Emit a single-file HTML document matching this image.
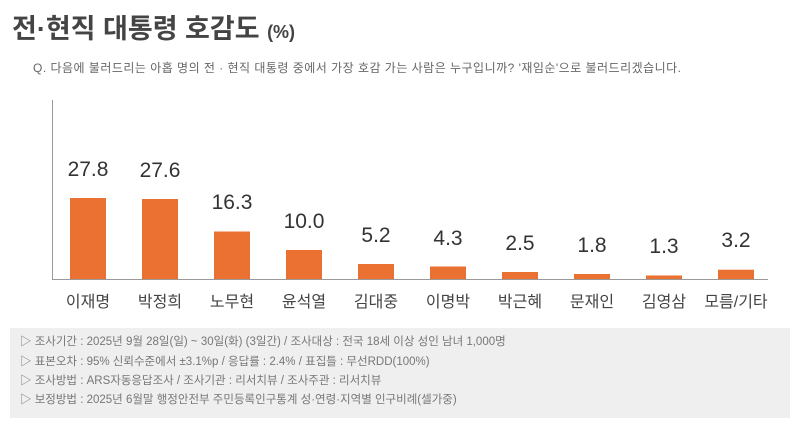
<!DOCTYPE html>
<html><head><meta charset="utf-8"><style>
body{margin:0;width:800px;height:427px;background:#fff;overflow:hidden;font-family:"Liberation Sans","Noto Sans CJK KR",sans-serif;}
</style></head><body>
<svg width="800" height="427" xmlns="http://www.w3.org/2000/svg" font-family="'Liberation Sans','Noto Sans CJK KR',sans-serif">
<text x="12" y="38" font-size="27" font-weight="bold" fill="#444">전·현직 대통령 호감도 <tspan font-size="18">(%)</tspan></text>
<text x="33" y="72" font-size="12" fill="#666" textLength="648" lengthAdjust="spacing">Q. 다음에 불러드리는 아홉 명의 전 · 현직 대통령 중에서 가장 호감 가는 사람은 누구입니까? '재임순'으로 불러드리겠습니다.</text>
<line x1="52.5" y1="100" x2="52.5" y2="279" stroke="#999" stroke-width="1"/>
<line x1="52" y1="279.5" x2="768" y2="279.5" stroke="#999" stroke-width="1"/>
<g fill="#ea7131">
<rect x="70" y="198" width="36" height="81"/>
<rect x="142" y="199" width="36" height="80"/>
<rect x="214" y="231.5" width="36" height="47.5"/>
<rect x="286" y="250" width="36" height="29"/>
<rect x="358" y="264" width="36" height="15"/>
<rect x="430" y="266.5" width="36" height="12.5"/>
<rect x="502" y="272" width="36" height="7"/>
<rect x="574" y="274" width="36" height="5"/>
<rect x="646" y="275.5" width="36" height="3.5"/>
<rect x="718" y="269.7" width="36" height="9.3"/>
</g>
<g font-size="21" fill="#333" text-anchor="middle">
<text x="88" y="176">27.8</text>
<text x="160" y="177">27.6</text>
<text x="232" y="209">16.3</text>
<text x="304" y="228">10.0</text>
<text x="376" y="242">5.2</text>
<text x="448" y="245">4.3</text>
<text x="520" y="250">2.5</text>
<text x="592" y="252">1.8</text>
<text x="664" y="253">1.3</text>
<text x="736" y="247">3.2</text>
</g>
<g font-size="16" fill="#444" text-anchor="middle">
<text x="88" y="307">이재명</text>
<text x="160" y="307">박정희</text>
<text x="232" y="307">노무현</text>
<text x="304" y="307">윤석열</text>
<text x="376" y="307">김대중</text>
<text x="448" y="307">이명박</text>
<text x="520" y="307">박근혜</text>
<text x="592" y="307">문재인</text>
<text x="664" y="307">김영삼</text>
<text x="736" y="307">모름/기타</text>
</g>
<rect x="10" y="328" width="780" height="90" fill="#efefef"/>
<g font-size="11.5" fill="#777">
<text x="20" y="345">▷ 조사기간 : 2025년 9월 28일(일) ~ 30일(화) (3일간) / 조사대상 : 전국 18세 이상 성인 남녀 1,000명</text>
<text x="20" y="365">▷ 표본오차 : 95% 신뢰수준에서 ±3.1%p / 응답률 : 2.4% / 표집틀 : 무선RDD(100%)</text>
<text x="20" y="384">▷ 조사방법 : ARS자동응답조사 / 조사기관 : 리서치뷰 / 조사주관 : 리서치뷰</text>
<text x="20" y="403">▷ 보정방법 : 2025년 6월말 행정안전부 주민등록인구통계 성·연령·지역별 인구비례(셀가중)</text>
</g>
</svg>
</body></html>
